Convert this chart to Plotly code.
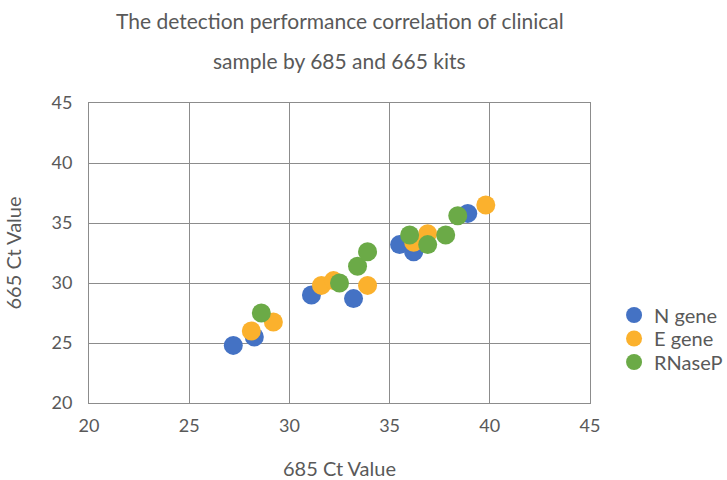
import plotly.graph_objects as go

n_x = [27.2, 28.25, 31.1, 33.2, 35.5, 36.2, 38.9]
n_y = [24.8, 25.5, 29.0, 28.7, 33.2, 32.6, 35.8]
e_x = [28.1, 29.2, 31.6, 32.2, 33.9, 36.2, 36.9, 39.8]
e_y = [26.0, 26.75, 29.8, 30.2, 29.8, 33.4, 34.1, 36.5]
r_x = [28.6, 32.5, 33.4, 33.9, 36.0, 36.9, 37.8, 38.4]
r_y = [27.5, 30.0, 31.4, 32.6, 34.0, 33.2, 34.0, 35.6]
series_names = ["N gene", "E gene", "RNaseP"]
title_lines = ["The detection performance correlation of clinical",
               "sample by 685 and 665 kits"]

colors = ["#4472C4", "#FBB12D", "#6BAA47"]
FONT = "Lato"
GRAY = "#595959"

L, R, T, B = 89, 137, 103, 77
PH = 480 - T - B
legend_ids = ["legend", "legend2", "legend3"]
legend_px = [315, 338.5, 362]

fig = go.Figure()
for name, xs, ys, c, lid in zip(series_names, [n_x, e_x, r_x], [n_y, e_y, r_y], colors, legend_ids):
    fig.add_trace(go.Scatter(x=xs, y=ys, mode="markers", name=name, legend=lid, showlegend=True,
                             marker=dict(size=19, color=c, line=dict(width=0))))

axis_common = dict(showgrid=True, gridcolor="#8C8C8C", gridwidth=1,
                   showline=True, linecolor="#8C8C8C", linewidth=1, mirror=True,
                   zeroline=False, ticks="", tickfont=dict(size=18, color=GRAY, family=FONT),
                   dtick=5, automargin=False)
fig.update_xaxes(range=[20, 45], ticklabelstandoff=6,
                 title=dict(text="685 Ct Value", font=dict(size=20, color=GRAY, family=FONT), standoff=28),
                 **axis_common)
fig.update_yaxes(range=[20, 45], ticklabelstandoff=12,
                 title=dict(text="665 Ct Value", font=dict(size=20, color=GRAY, family=FONT), standoff=24),
                 **axis_common)

for i, line in enumerate(title_lines):
    ypx = [20, 60][i]
    fig.add_annotation(text=line, x=0.5, y=1 + (T - ypx) / PH, xref="paper", yref="paper",
                       yanchor="middle", showarrow=False,
                       font=dict(size=21, color=GRAY, family=FONT))

legend_style = dict(x=1.048, xanchor="left", yanchor="middle", visible=True,
                    font=dict(size=20, color=GRAY, family=FONT),
                    itemsizing="trace", bgcolor="rgba(0,0,0,0)")
layout_legends = {}
for lid, ypx in zip(legend_ids, legend_px):
    layout_legends[lid] = dict(y=(480 - B - ypx) / PH, **legend_style)

fig.update_layout(
    width=727, height=480,
    margin=dict(l=L, r=R, t=T, b=B, autoexpand=False),
    showlegend=True,
    paper_bgcolor="white", plot_bgcolor="white",
    font=dict(family=FONT, color=GRAY),
    **layout_legends,
)

fig.write_html("out.html", config={"displayModeBar": False},
               post_script="document.body.style.margin='0';document.body.style.padding='0';")
